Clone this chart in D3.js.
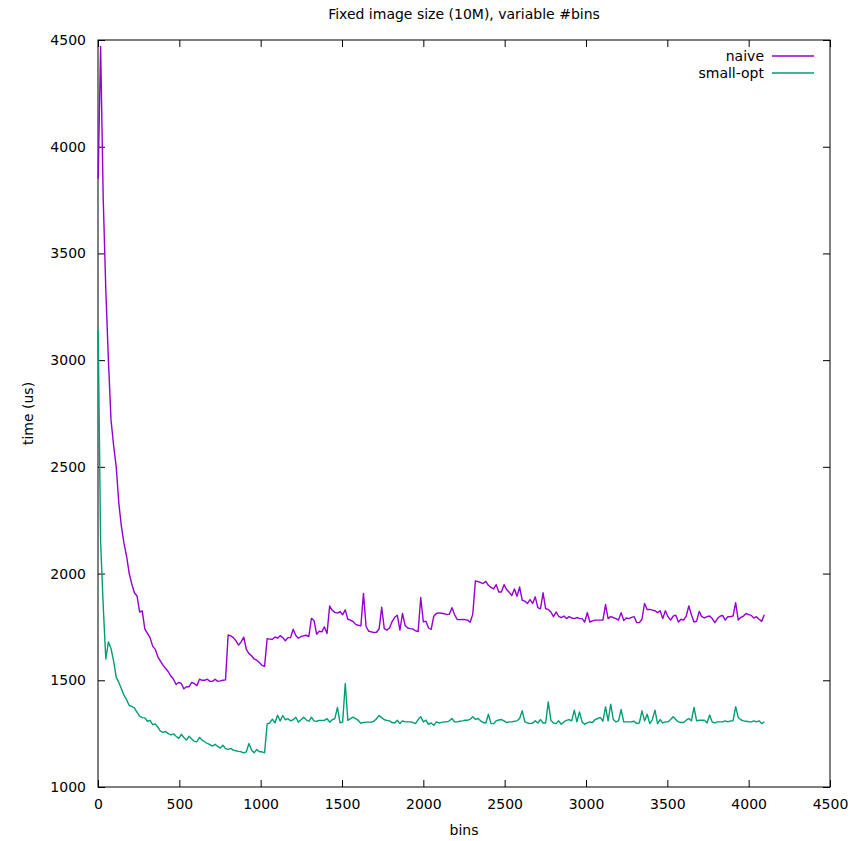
<!DOCTYPE html>
<html>
<head>
<meta charset="utf-8">
<script src="https://cdn.jsdelivr.net/npm/d3@7"></script>
<style>
  html, body { margin: 0; padding: 0; background: #fff; }
  text { font-family: "DejaVu Sans", sans-serif; }
</style>
</head>
<body>
<svg id="chart" width="868" height="841"></svg>
<script>
// ---- data ----
const bins = [1,
  16,32,48,64,80,96,112,128,144,160,176,192,208,224,240,256,
  272,288,304,320,336,352,368,384,400,416,432,448,464,480,496,512,
  528,544,560,576,592,608,624,640,656,672,688,704,720,736,752,768,
  784,800,816,832,848,864,880,896,912,928,944,960,976,992,1008,1024,
  1040,1056,1072,1088,1104,1120,1136,1152,1168,1184,1200,1216,1232,1248,1264,1280,
  1296,1312,1328,1344,1360,1376,1392,1408,1424,1440,1456,1472,1488,1504,1520,1536,
  1552,1568,1584,1600,1616,1632,1648,1664,1680,1696,1712,1728,1744,1760,1776,1792,
  1808,1824,1840,1856,1872,1888,1904,1920,1936,1952,1968,1984,2000,2016,2032,2048,
  2064,2080,2096,2112,2128,2144,2160,2176,2192,2208,2224,2240,2256,2272,2288,2304,
  2320,2336,2352,2368,2384,2400,2416,2432,2448,2464,2480,2496,2512,2528,2544,2560,
  2576,2592,2608,2624,2640,2656,2672,2688,2704,2720,2736,2752,2768,2784,2800,2816,
  2832,2848,2864,2880,2896,2912,2928,2944,2960,2976,2992,3008,3024,3040,3056,3072,
  3088,3104,3120,3136,3152,3168,3184,3200,3216,3232,3248,3264,3280,3296,3312,3328,
  3344,3360,3376,3392,3408,3424,3440,3456,3472,3488,3504,3520,3536,3552,3568,3584,
  3600,3616,3632,3648,3664,3680,3696,3712,3728,3744,3760,3776,3792,3808,3824,3840,
  3856,3872,3888,3904,3920,3936,3952,3968,3984,4000,4016,4032,4048,4064,4080,4096];

const naive = [3850,
  4470,3760,3330,3000,2720,2600,2500,2330,2220,2140,2080,2000,1950,1910,1895,1820,
  1825,1740,1720,1700,1660,1645,1610,1590,1570,1555,1540,1520,1505,1480,1490,1485,
  1460,1470,1470,1490,1485,1475,1505,1500,1500,1505,1495,1495,1505,1495,1497,1500,
  1502,1712,1708,1700,1685,1665,1680,1702,1645,1625,1615,1600,1594,1583,1570,1565,
  1695,1693,1692,1703,1697,1709,1700,1685,1700,1700,1739,1710,1697,1705,1708,1711,
  1705,1790,1780,1716,1730,1727,1750,1719,1848,1828,1818,1815,1822,1807,1830,1786,
  1782,1775,1762,1758,1755,1907,1752,1730,1727,1724,1725,1740,1842,1742,1735,1745,
  1775,1795,1805,1735,1813,1757,1745,1742,1740,1732,1728,1888,1774,1777,1745,1738,
  1800,1813,1816,1814,1812,1808,1810,1840,1808,1785,1784,1785,1784,1782,1772,1810,
  1966,1962,1958,1953,1964,1945,1935,1928,1948,1914,1914,1948,1925,1912,1897,1928,
  1894,1937,1875,1871,1860,1878,1860,1891,1840,1835,1910,1835,1832,1820,1798,1820,
  1800,1794,1801,1789,1798,1792,1789,1794,1790,1789,1773,1817,1773,1778,1782,1782,
  1782,1782,1855,1789,1798,1794,1789,1782,1817,1780,1792,1789,1795,1798,1770,1770,
  1786,1860,1832,1832,1829,1826,1817,1826,1789,1826,1798,1782,1801,1805,1773,1786,
  1782,1801,1848,1807,1773,1777,1823,1798,1792,1798,1801,1789,1770,1789,1800,1804,
  1782,1798,1798,1801,1864,1782,1795,1801,1813,1808,1804,1792,1798,1786,1776,1807];

const smallOpt = [3140,
  2150,1850,1600,1680,1649,1590,1515,1490,1460,1430,1408,1382,1378,1370,1350,1332,
  1325,1324,1308,1312,1292,1296,1280,1262,1256,1260,1250,1244,1249,1238,1228,1247,
  1232,1220,1238,1225,1214,1212,1232,1220,1212,1204,1198,1192,1200,1190,1182,1196,
  1180,1176,1181,1173,1170,1167,1165,1160,1165,1204,1173,1160,1176,1165,1165,1160,
  1296,1300,1318,1300,1336,1310,1335,1315,1320,1310,1315,1327,1304,1315,1327,1315,
  1308,1327,1310,1308,1312,1312,1312,1320,1304,1315,1320,1373,1301,1304,1485,1312,
  1320,1327,1320,1312,1299,1302,1304,1304,1304,1308,1320,1335,1325,1315,1312,1310,
  1302,1300,1313,1297,1310,1305,1305,1305,1302,1297,1316,1329,1305,1313,1294,1300,
  1289,1305,1300,1303,1305,1305,1310,1321,1305,1305,1308,1310,1313,1313,1317,1329,
  1317,1321,1310,1302,1300,1341,1297,1297,1310,1314,1316,1310,1302,1305,1305,1308,
  1310,1321,1357,1305,1300,1297,1300,1310,1300,1316,1300,1300,1399,1313,1300,1297,
  1310,1294,1305,1312,1316,1310,1360,1305,1352,1305,1294,1300,1305,1302,1316,1321,
  1326,1308,1376,1310,1388,1316,1305,1310,1363,1305,1305,1305,1306,1308,1297,1300,
  1357,1310,1341,1297,1316,1360,1297,1316,1300,1305,1305,1316,1329,1316,1305,1302,
  1302,1313,1321,1310,1373,1310,1313,1313,1313,1300,1337,1305,1300,1305,1305,1305,
  1310,1305,1310,1310,1376,1326,1315,1310,1308,1306,1305,1310,1305,1310,1297,1305];

const seriesNames = ["naive", "small-opt"];
const seriesColors = ["#9400d3", "#009e73"];
const xTicks = [0, 500, 1000, 1500, 2000, 2500, 3000, 3500, 4000, 4500];
const yTicks = [1000, 1500, 2000, 2500, 3000, 3500, 4000, 4500];
const titleText = "Fixed image size (10M), variable #bins";
const xLabel = "bins";
const yLabel = "time (us)";

// ---- chart ----
const svg = d3.select("#chart");
const L = 98, R = 830, T = 40, B = 787;
const x = d3.scaleLinear().domain([0, 4500]).range([L, R]);
const y = d3.scaleLinear().domain([1000, 4500]).range([B, T]);
const tickLen = 7;

// axes with inward ticks
const gx = svg.append("g").attr("transform", `translate(0,${B})`)
  .call(d3.axisBottom(x).tickValues(xTicks).tickSizeInner(-tickLen).tickSizeOuter(0).tickPadding(12).tickFormat(d3.format("d")));
const gxTop = svg.append("g").attr("transform", `translate(0,${T})`)
  .call(d3.axisTop(x).tickValues(xTicks).tickSizeInner(-tickLen).tickSizeOuter(0).tickFormat(""));
const gy = svg.append("g").attr("transform", `translate(${L},0)`)
  .call(d3.axisLeft(y).tickValues(yTicks).tickSizeInner(-tickLen).tickSizeOuter(0).tickPadding(12).tickFormat(d3.format("d")));
const gyR = svg.append("g").attr("transform", `translate(${R},0)`)
  .call(d3.axisRight(y).tickValues(yTicks).tickSizeInner(-tickLen).tickSizeOuter(0).tickFormat(""));

[gx, gxTop, gy, gyR].forEach(g => {
  g.select(".domain").remove();
  g.selectAll(".tick line").attr("stroke", "#000").attr("stroke-width", 1);
  g.selectAll(".tick text").attr("fill", "#000").attr("font-size", 14)
    .attr("font-family", "DejaVu Sans, sans-serif");
});

// border
svg.append("rect").attr("x", L).attr("y", T).attr("width", R - L).attr("height", B - T)
  .attr("fill", "none").attr("stroke", "#000").attr("stroke-width", 1);

// lines
const allSeries = [naive, smallOpt];
const line = d3.line().x((d, i) => x(bins[i])).y(d => y(d));
allSeries.forEach((vals, k) => {
  svg.append("path").datum(vals)
    .attr("d", line)
    .attr("fill", "none")
    .attr("stroke", seriesColors[k])
    .attr("stroke-width", 1.4)
    .attr("stroke-linejoin", "round");
});

// title and labels
svg.append("text").attr("x", (L + R) / 2).attr("y", 19).attr("text-anchor", "middle")
  .attr("font-size", 14).text(titleText);
svg.append("text").attr("x", (L + R) / 2).attr("y", 835).attr("text-anchor", "middle")
  .attr("font-size", 14).text(xLabel);
svg.append("text").attr("transform", `translate(33,${(T + B) / 2}) rotate(-90)`)
  .attr("text-anchor", "middle").attr("font-size", 14).text(yLabel);

// legend
seriesNames.forEach((name, k) => {
  const ly = 56 + k * 17;
  svg.append("text").attr("x", 764).attr("y", ly).attr("dy", "0.35em")
    .attr("text-anchor", "end").attr("font-size", 14).text(name);
  svg.append("line").attr("x1", 772).attr("x2", 814).attr("y1", ly).attr("y2", ly)
    .attr("stroke", seriesColors[k]).attr("stroke-width", 1.4);
});
</script>
</body>
</html>
